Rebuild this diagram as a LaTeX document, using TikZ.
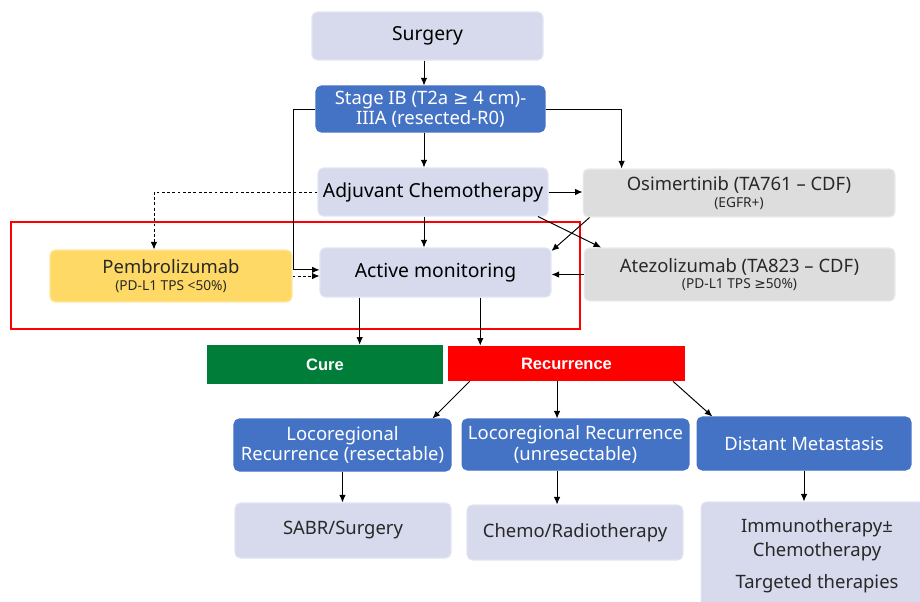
\documentclass[tikz,border=0pt]{standalone}
\usepackage{fontspec}
\setmainfont{Noto Sans}
\newfontfamily\headfont{Liberation Sans}
\newfontfamily\symfont{DejaVu Sans}
\usetikzlibrary{arrows.meta,positioning,calc}
\definecolor{lavender}{RGB}{214,218,236}
\definecolor{stageblue}{RGB}{68,114,196}
\definecolor{lightgrey}{RGB}{221,221,221}
\definecolor{pembroyellow}{RGB}{255,217,102}
\definecolor{curegreen}{RGB}{0,126,57}
\definecolor{inkgrey}{RGB}{40,40,40}
\newcommand{\subnote}[1]{\\[-2pt]{\fontsize{7.8}{8.5}\selectfont #1}}
\newcommand{\gesym}{{\symfont ≥}}
\tikzset{
  box/.style={rounded corners=3pt,fill=lavender,draw=lavender!70!white,line width=0.6pt,align=center,inner sep=1pt,text=inkgrey,font=\fontsize{10.5}{11.5}\selectfont},
  mainbox/.style={box,text=black,font=\fontsize{11}{12}\selectfont},
  bluebox/.style={box,fill=stageblue,draw=stageblue,text=white},
  greybox/.style={box,fill=lightgrey,draw=lightgrey!60!white},
  yellowbox/.style={box,fill=pembroyellow,draw=pembroyellow!60!white},
  outcome/.style={rectangle,inner sep=0pt,text=white,font=\headfont\bfseries\fontsize{9.4}{11}\selectfont},
  focus/.style={draw=red,line width=1.4pt},
  arr/.style={-{Latex[length=1.5mm,width=1.3mm]},draw=black,line width=0.55pt},
  darr/.style={arr,dash pattern=on 1.6pt off 1.4pt}
}

\begin{document}
\begin{tikzpicture}[x=0.02cm,y=-0.02cm]
  \useasboundingbox (0,0) rectangle (920,602);
  \clip (0,0) rectangle (920,602);

  % main path
  \node[mainbox,minimum width=4.62cm,minimum height=0.96cm] (surgery) at (427.5,36) {Surgery};
  \node[bluebox,minimum width=4.58cm,minimum height=0.92cm] (stage) at (430.5,109) {Stage IB (T2a \gesym{} 4 cm)-\\IIIA (resected-R0)};
  \node[mainbox,minimum width=4.60cm,minimum height=0.96cm] (adjuvant) at (433,192) {Adjuvant Chemotherapy};
  \node[mainbox,minimum width=4.62cm,minimum height=0.98cm] (monitor) at (435.5,272.5) {Active monitoring};

  % targeted / immunotherapy options
  \node[greybox,minimum width=6.24cm,minimum height=0.96cm] (osim) at (739,193) {Osimertinib (TA761 – CDF)\subnote{(EGFR+)}};
  \node[greybox,minimum width=6.22cm,minimum height=1.06cm] (atezo) at (739.5,274.5) {Atezolizumab (TA823 – CDF)\subnote{(PD-L1 TPS \gesym50\%)}};
  \node[yellowbox,minimum width=4.84cm,minimum height=1.04cm] (pembro) at (171,276) {Pembrolizumab\subnote{(PD-L1 TPS <50\%)}};

  \draw[focus] (11,222) rectangle (580,329);

  % outcomes
  \node[outcome,fill=curegreen,minimum width=4.72cm,minimum height=0.78cm] (cure) at (325,364.5) {Cure};
  \node[outcome,fill=red,minimum width=4.74cm,minimum height=0.70cm] (recur) at (566.5,363.5) {Recurrence};

  \node[bluebox,minimum width=4.34cm,minimum height=1.04cm] (locres) at (342.5,445) {Locoregional\\Recurrence (resectable)};
  \node[bluebox,minimum width=4.54cm,minimum height=1.02cm] (locunres) at (575.5,444.5) {Locoregional Recurrence\\(unresectable)};
  \node[bluebox,minimum width=4.28cm,minimum height=1.06cm] (distant) at (804,443.5) {Distant Metastasis};

  \node[box,minimum width=4.32cm,minimum height=1.10cm] (sabr) at (343,530.5) {SABR/Surgery};
  \node[box,minimum width=4.32cm,minimum height=1.10cm] (chemo) at (575,532.5) {Chemo/Radiotherapy};
  \node[box,minimum width=4.64cm,minimum height=2.16cm,font=\fontsize{10.5}{13.6}\selectfont] (immuno) at (817,556) {Immunotherapy±\\Chemotherapy\\[4.5pt]Targeted therapies};

  % connectors
  \coordinate (spine) at (424,0);
  \coordinate (tocure) at ($(monitor.south west)!0.173!(monitor.south east)$);
  \coordinate (torecur) at ($(monitor.south west)!0.693!(monitor.south east)$);
  \coordinate (midrec) at ([xshift=-10.5pt]locunres.north);

  \draw[arr] (surgery.south -| spine) -- (stage.north -| spine);
  \draw[arr] (stage.south -| spine) -- (adjuvant.north -| spine);
  \draw[arr] (adjuvant.south -| spine) -- (monitor.north -| spine);
  \draw[arr] (stage.east) -| ($(osim.north west)!0.125!(osim.north east)$);
  \draw[arr] (stage.west) -- ++(-22,0) |- ([yshift=1.5pt]monitor.west);
  \draw[arr] (adjuvant.east) -- (adjuvant.east -| osim.west);
  \draw[darr] (adjuvant.west) -| ($(pembro.north west)!0.43!(pembro.north east)$);
  \draw[darr] (pembro.east) -- (pembro.east -| monitor.west);
  \draw[arr] ([xshift=-6pt]adjuvant.south east) -- ([xshift=10pt]atezo.north west);
  \draw[arr] ([xshift=4pt]osim.south west) -- ([yshift=-2pt]monitor.north east);
  \draw[arr] (atezo.west) -- (atezo.west -| monitor.east);

  \draw[arr] (tocure) -- (tocure |- cure.north);
  \draw[arr] (torecur) -- (torecur |- recur.north);
  \draw[arr] ([xshift=12.5pt]recur.south west) -- ([xshift=-10.8pt]locres.north east);
  \draw[arr] (recur.south -| midrec) -- (midrec);
  \draw[arr] ([xshift=-7pt]recur.south east) -- ([xshift=9pt]distant.north west);

  \draw[arr] (locres.south) -- (locres.south |- sabr.north);
  \draw[arr] (locunres.south -| midrec) -- (chemo.north -| midrec);
  \draw[arr] (distant.south) -- (distant.south |- immuno.north);
\end{tikzpicture}
\end{document}
